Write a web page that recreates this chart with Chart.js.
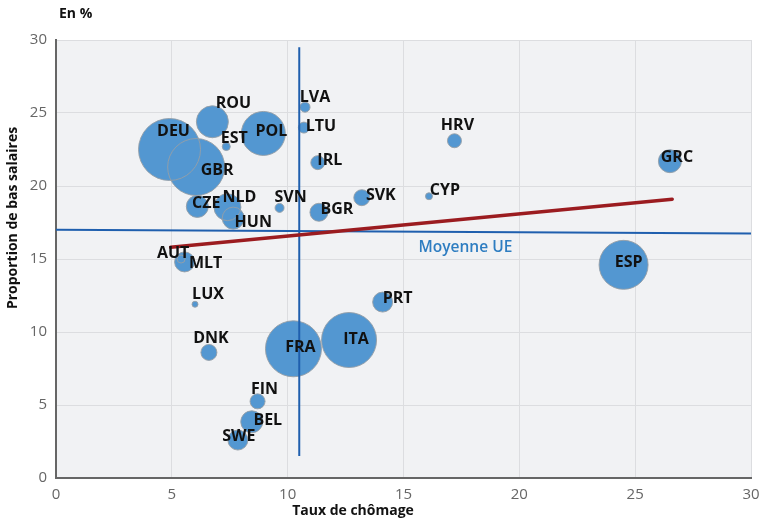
<!DOCTYPE html>
<html lang="fr">
<head>
<meta charset="utf-8">
<script src="https://cdn.jsdelivr.net/npm/chart.js@4.4.1/dist/chart.umd.min.js"></script>
<style>
  html, body { margin: 0; padding: 0; background: #fff; }
  #cadre { width: 769px; height: 524px; }
</style>
</head>
<body>
<div id="cadre"><canvas id="graphique" width="769" height="524"></canvas></div>
<script>
// === DONNÉES ===
const pays = ['DEU', 'GBR', 'ROU', 'EST', 'POL', 'CZE', 'NLD', 'HUN', 'SVN', 'LVA', 'LTU', 'IRL', 'BGR', 'SVK',
  'HRV', 'CYP', 'GRC', 'ESP', 'AUT', 'MLT', 'LUX', 'DNK', 'FRA', 'ITA', 'PRT', 'FIN', 'BEL', 'SWE'];
// taux de chômage (%)
const chomage = [4.9, 6.05, 6.75, 7.35, 8.95, 6.1, 7.4, 7.65, 9.65, 10.75, 10.7, 11.3, 11.35, 13.2,
  17.2, 16.1, 26.5, 24.5, 5.4, 5.55, 6.0, 6.6, 10.25, 12.65, 14.1, 8.7, 8.45, 7.85];
// proportion de bas salaires (%)
const basSalaires = [22.5, 21.3, 24.4, 22.7, 23.6, 18.6, 18.55, 17.8, 18.5, 25.4, 24.0, 21.6, 18.2, 19.2,
  23.1, 19.3, 21.7, 14.6, 15.0, 14.8, 11.9, 8.6, 8.85, 9.45, 12.05, 5.25, 3.85, 2.6];
// taille des bulles (rayon)
const tailles = [31, 28.5, 16, 4, 22, 11, 13.5, 11, 4.5, 5, 5.5, 7, 9, 8,
  7, 3.5, 11.5, 24.5, 4, 10, 3, 8, 28, 27.5, 10, 7.5, 11, 10];

// moyenne UE (chômage) et moyenne UE (bas salaires), droite de tendance
const moyenneChomage = [{ x: 10.5, y: 1.5 }, { x: 10.5, y: 29.5 }];
const moyenneBasSalaires = [{ x: 0, y: 17.0 }, { x: 30, y: 16.75 }];
const tendance = [{ x: 4.95, y: 15.8 }, { x: 26.6, y: 19.1 }];

// décalage des étiquettes par rapport au centre des bulles (px)
const decalages = {
  DEU: [4, -18], GBR: [21, 3], ROU: [21, -18], EST: [8, -8], POL: [8, -2], CZE: [9, -3],
  NLD: [12, -10], HUN: [20, 4], SVN: [11, -10], LVA: [10, -10], LTU: [17, -1], IRL: [12, -2],
  BGR: [18, -3], SVK: [19, -2], HRV: [3, -15], CYP: [16, -6], GRC: [7, -4], ESP: [5, -2],
  AUT: [-8, -6], MLT: [21, 2], LUX: [13, -10], DNK: [2, -14], FRA: [7, -1], ITA: [7, -1],
  PRT: [15, -4], FIN: [7, -12], BEL: [16, -1], SWE: [1, -4]
};

const police = "'Open Sans', 'DejaVu Sans', sans-serif";

// POINTS DES BULLES
const bulles = pays.map((p, i) => ({ x: chomage[i], y: basSalaires[i], r: tailles[i] }));

// FOND GRIS + CONTOURS + ÉTIQUETTES
const decor = {
  id: 'decor',
  beforeDraw(chart) {
    const { ctx, chartArea: a } = chart;
    ctx.save();
    ctx.fillStyle = '#f1f2f4';
    ctx.fillRect(a.left, a.top, a.right - a.left, a.bottom - a.top);
    ctx.restore();
  },
  afterDatasetDraw(chart, args) {
    // contours de toutes les bulles, visibles même quand elles se chevauchent
    if (args.index !== 0) return;
    const ctx = chart.ctx;
    const a = chart.chartArea;
    ctx.save();
    ctx.beginPath();
    ctx.rect(a.left, a.top, a.right - a.left, a.bottom - a.top);
    ctx.clip();
    ctx.strokeStyle = 'rgba(150,158,166,0.9)';
    ctx.lineWidth = 1;
    chart.getDatasetMeta(0).data.forEach((el, i) => {
      ctx.beginPath();
      ctx.arc(el.x, el.y, tailles[i], 0, Math.PI * 2);
      ctx.stroke();
    });
    ctx.restore();
  },
  afterDatasetsDraw(chart) {
    const ctx = chart.ctx;
    const sx = chart.scales.x;
    const sy = chart.scales.y;
    ctx.save();
    ctx.textAlign = 'center';
    ctx.textBaseline = 'middle';
    ctx.fillStyle = '#111';
    ctx.font = "bold 16px " + police;
    chart.getDatasetMeta(0).data.forEach((el, i) => {
      const d = decalages[pays[i]] || [0, 0];
      ctx.fillText(pays[i], el.x + d[0], el.y + d[1]);
    });

    // libellé de la moyenne
    ctx.fillStyle = '#2e7dc1';
    ctx.font = "600 15.5px " + police;
    ctx.textAlign = 'left';
    ctx.fillText('Moyenne UE', sx.getPixelForValue(15.65), sy.getPixelForValue(15.75));

    // titres
    ctx.fillStyle = '#111';
    ctx.font = "bold 14px " + police;
    ctx.fillText('En %', 59, 14);
    ctx.textAlign = 'center';
    ctx.fillText('Taux de chômage', 353, 511);
    ctx.translate(13, 218);
    ctx.rotate(-Math.PI / 2);
    ctx.fillText('Proportion de bas salaires', 0, 0);
    ctx.restore();
  }
};

// CRÉER LE GRAPHIQUE
function creerGraphique() {
  const ctx = document.getElementById('graphique').getContext('2d');
  new Chart(ctx, {
    type: 'bubble',
    data: {
      datasets: [
        {
          label: 'Pays',
          data: bulles,
          backgroundColor: '#5397d1',
          borderWidth: 0,
          order: 2
        },
        {
          type: 'line',
          label: 'Moyenne chômage',
          data: moyenneChomage,
          borderColor: '#1f5fae',
          borderWidth: 2,
          pointRadius: 0,
          order: 1
        },
        {
          type: 'line',
          label: 'Moyenne bas salaires',
          data: moyenneBasSalaires,
          borderColor: '#1f5fae',
          borderWidth: 2,
          pointRadius: 0,
          order: 1
        },
        {
          type: 'line',
          label: 'Tendance',
          data: tendance,
          borderColor: '#9b1c20',
          borderWidth: 3.5,
          borderCapStyle: 'round',
          pointRadius: 0,
          order: 0
        }
      ]
    },
    options: {
      responsive: false,
      animation: false,
      layout: { autoPadding: false, padding: { top: 40, right: 18, left: 0, bottom: 0 } },
      plugins: {
        legend: { display: false },
        tooltip: { enabled: false }
      },
      scales: {
        x: {
          type: 'linear',
          min: 0,
          max: 30,
          afterFit: s => { s.height = 46; },
          ticks: { stepSize: 5, padding: 8, color: '#666', font: { family: police, size: 15 } },
          grid: { color: '#dcdde0', drawTicks: false },
          border: { color: '#666', width: 2 }
        },
        y: {
          min: 0,
          max: 30,
          afterFit: s => { s.width = 56; },
          ticks: { stepSize: 5, padding: 9, color: '#666', font: { family: police, size: 15 } },
          grid: { color: '#dcdde0', drawTicks: false },
          border: { color: '#666', width: 2 }
        }
      }
    },
    plugins: [decor]
  });
}

creerGraphique();
</script>
</body>
</html>
